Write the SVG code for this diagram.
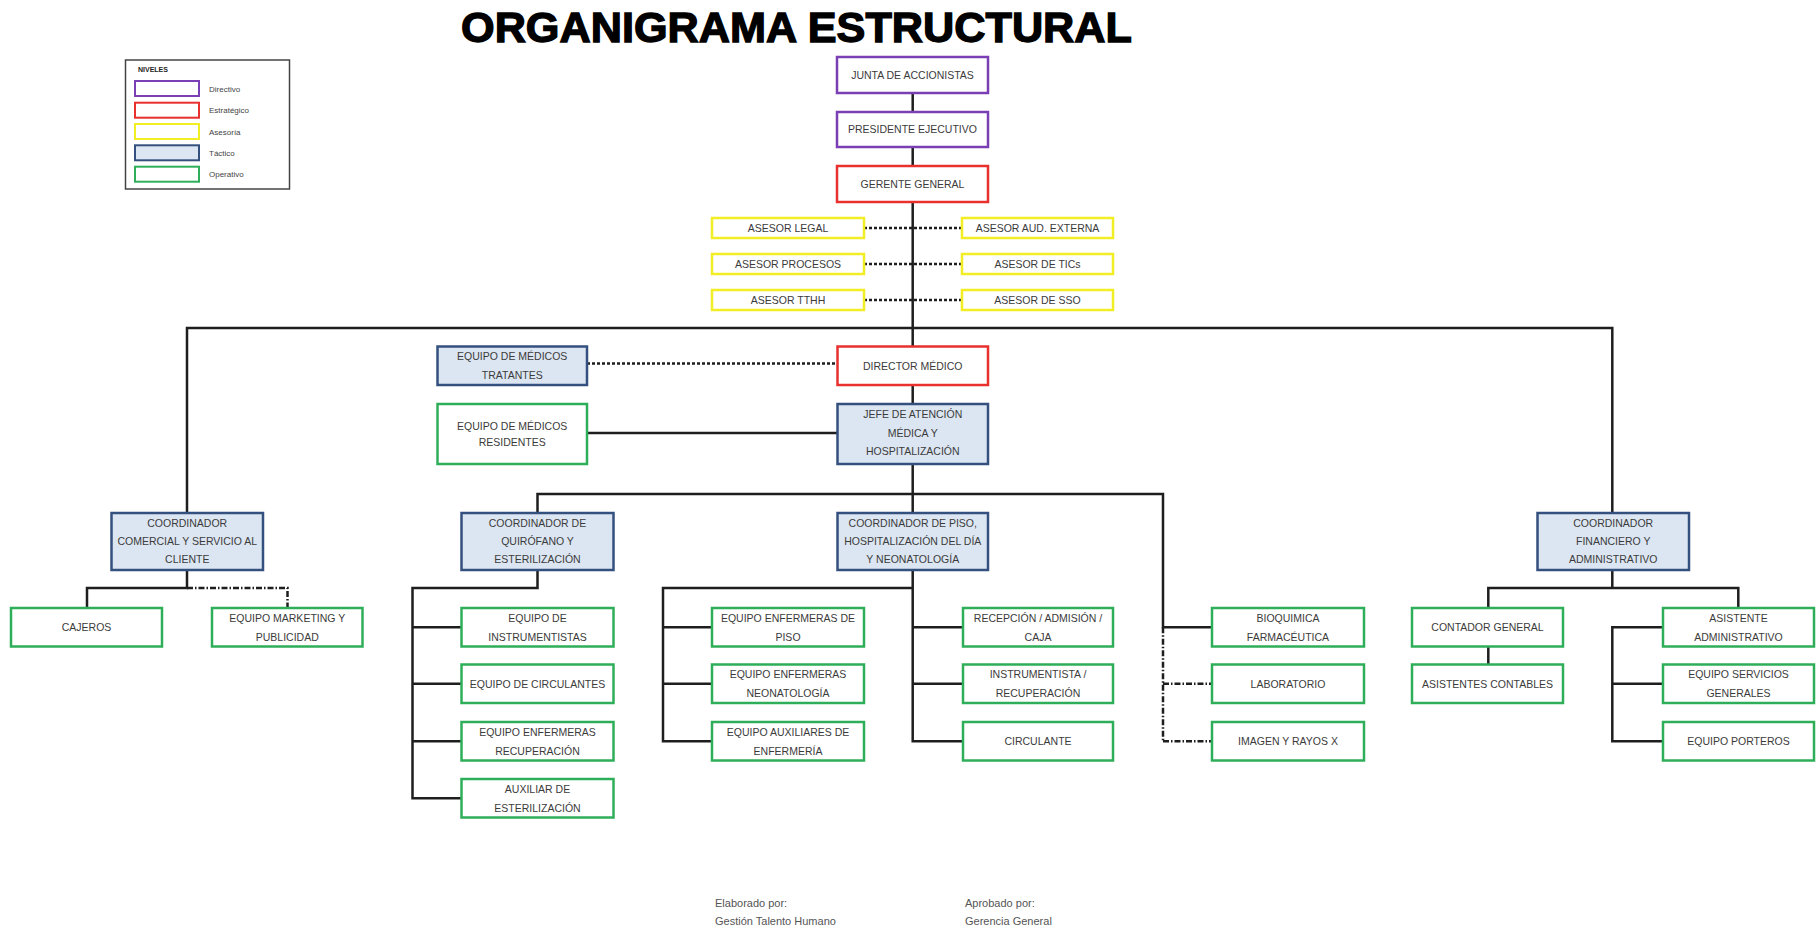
<svg xmlns="http://www.w3.org/2000/svg" width="1816" height="929" viewBox="0 0 1816 929">
<style>
.t{font-family:"Liberation Sans",Arial,sans-serif;font-size:10.5px;fill:#3b3b3b;text-anchor:middle}
.lg{font-family:"Liberation Sans",Arial,sans-serif;font-size:8px;fill:#444}
.ft{font-family:"Liberation Sans",Arial,sans-serif;font-size:11px;fill:#555}
.dir{fill:#fff;stroke:#7b3fb5;stroke-width:2.5}
.est{fill:#fff;stroke:#e8312f;stroke-width:2.5}
.ase{fill:#fff;stroke:#f2ee25;stroke-width:2.5}
.tac{fill:#dce6f2;stroke:#34507f;stroke-width:2.5}
.ope{fill:#fff;stroke:#2fae5a;stroke-width:2.5}
.ln{stroke:#1e1e1e;stroke-width:2.5;fill:none}
.ds{stroke:#1e1e1e;stroke-width:2.5;fill:none;stroke-dasharray:3 2}
.dd{stroke:#1e1e1e;stroke-width:2.5;fill:none;stroke-dasharray:6 2 1.5 2}
</style>
<rect width="1816" height="929" fill="#fff"/>
<text x="461" y="41.5" textLength="671" lengthAdjust="spacingAndGlyphs" style="font-family:'Liberation Sans',Arial,sans-serif;font-weight:bold;font-size:42px;fill:#000;stroke:#000;stroke-width:1.3">ORGANIGRAMA ESTRUCTURAL</text>

<g id="legend">
<rect x="125.5" y="60" width="164" height="129" fill="#fff" stroke="#444" stroke-width="1.5"/>
<text x="138" y="71.5" style="font-family:'Liberation Sans',Arial,sans-serif;font-size:7px;font-weight:bold;fill:#222">NIVELES</text>
<rect class="dir" x="135" y="81" width="64" height="15" style="stroke-width:2"/>
<rect class="est" x="135" y="102.7" width="64" height="15" style="stroke-width:2"/>
<rect class="ase" x="135" y="124" width="64" height="15" style="stroke-width:2"/>
<rect class="tac" x="135" y="145.3" width="64" height="15" style="stroke-width:2"/>
<rect class="ope" x="135" y="166.7" width="64" height="15" style="stroke-width:2"/>
<text class="lg" x="209" y="91.5">Directivo</text>
<text class="lg" x="209" y="113">Estratégico</text>
<text class="lg" x="209" y="134.5">Asesoría</text>
<text class="lg" x="209" y="155.8">Táctico</text>
<text class="lg" x="209" y="177.2">Operativo</text>
</g>

<g id="connectors">
<path class="ln" d="M912.7 93V513"/>
<path class="ln" d="M187 513V328H1612.3V513"/>
<path class="ds" d="M864 228H962M864 264H962M864 300H962"/>
<path class="ds" d="M587 363.5H837.5"/>
<path class="ln" d="M587 433H837.5"/>
<path class="ln" d="M537.5 513V494H1163V627.25H1212"/>
<path class="dd" d="M1163 627.25V741.25M1163 683.75H1212M1163 741.25H1212"/>
<path class="ln" d="M187 570V588H87V608"/>
<path class="dd" d="M187 588H287.5V608"/>
<path class="ln" d="M537.5 570V588H412.5V798.25H461.5M412.5 627.25H461.5M412.5 683.75H461.5M412.5 741.25H461.5"/>
<path class="ln" d="M912.7 570V741.25H963M912.7 588H663V741.25H712M663 627.25H712M663 683.75H712M912.7 627.25H963M912.7 683.75H963"/>
<path class="ln" d="M1612.3 570V588M1488.3 608V588H1738.3V608M1488.3 646V664.5"/>
<path class="ln" d="M1663 627.25H1612.3V741.25H1663M1612.3 683.75H1663"/>
</g>

<g id="junta"><rect class="dir" x="837" y="57" width="151" height="36"/><text class="t" x="912.5" y="78.8">JUNTA DE ACCIONISTAS</text></g>
<g id="presidente"><rect class="dir" x="837" y="112" width="151" height="35"/><text class="t" x="912.5" y="133.3">PRESIDENTE EJECUTIVO</text></g>
<g id="gerente"><rect class="est" x="837" y="166" width="151" height="36"/><text class="t" x="912.5" y="187.8">GERENTE GENERAL</text></g>

<g id="asesor-legal"><rect class="ase" x="712" y="218" width="152" height="20"/><text class="t" x="788" y="231.8">ASESOR LEGAL</text></g>
<g id="asesor-aud"><rect class="ase" x="962" y="218" width="151" height="20"/><text class="t" x="1037.5" y="231.8">ASESOR AUD. EXTERNA</text></g>
<g id="asesor-procesos"><rect class="ase" x="712" y="254" width="152" height="20"/><text class="t" x="788" y="267.8">ASESOR PROCESOS</text></g>
<g id="asesor-tics"><rect class="ase" x="962" y="254" width="151" height="20"/><text class="t" x="1037.5" y="267.8">ASESOR DE TICs</text></g>
<g id="asesor-tthh"><rect class="ase" x="712" y="290" width="152" height="20"/><text class="t" x="788" y="303.8">ASESOR TTHH</text></g>
<g id="asesor-sso"><rect class="ase" x="962" y="290" width="151" height="20"/><text class="t" x="1037.5" y="303.8">ASESOR DE SSO</text></g>

<g id="tratantes"><rect class="tac" x="437.5" y="346.5" width="149.5" height="38.5"/><text class="t" x="512.25"><tspan x="512.25" y="360.3">EQUIPO DE MÉDICOS</tspan><tspan x="512.25" y="378.8">TRATANTES</tspan></text></g>
<g id="director"><rect class="est" x="837.5" y="346.5" width="150.5" height="38.5"/><text class="t" x="912.75" y="369.5">DIRECTOR MÉDICO</text></g>
<g id="residentes"><rect class="ope" x="437.5" y="404" width="149.5" height="60"/><text class="t"><tspan x="512.25" y="429.8">EQUIPO DE MÉDICOS</tspan><tspan x="512.25" y="446.3">RESIDENTES</tspan></text></g>
<g id="jefe"><rect class="tac" x="837.5" y="404" width="150.5" height="60"/><text class="t"><tspan x="912.75" y="418">JEFE DE ATENCIÓN</tspan><tspan x="912.75" y="436.5">MÉDICA Y</tspan><tspan x="912.75" y="455">HOSPITALIZACIÓN</tspan></text></g>

<g id="coord-comercial"><rect class="tac" x="111.5" y="513" width="151.5" height="57"/><text class="t"><tspan x="187.25" y="527.3">COORDINADOR</tspan><tspan x="187.25" y="545.3">COMERCIAL Y SERVICIO AL</tspan><tspan x="187.25" y="563.3">CLIENTE</tspan></text></g>
<g id="coord-quirofano"><rect class="tac" x="461.5" y="513" width="152" height="57"/><text class="t"><tspan x="537.5" y="527.3">COORDINADOR DE</tspan><tspan x="537.5" y="545.3">QUIRÓFANO Y</tspan><tspan x="537.5" y="563.3">ESTERILIZACIÓN</tspan></text></g>
<g id="coord-piso"><rect class="tac" x="837.5" y="513" width="150.5" height="57"/><text class="t"><tspan x="912.75" y="527.3">COORDINADOR DE PISO,</tspan><tspan x="912.75" y="545.3">HOSPITALIZACIÓN DEL DÍA</tspan><tspan x="912.75" y="563.3">Y NEONATOLOGÍA</tspan></text></g>
<g id="coord-financiero"><rect class="tac" x="1537.5" y="513" width="151.5" height="57"/><text class="t"><tspan x="1613.25" y="527.3">COORDINADOR</tspan><tspan x="1613.25" y="545.3">FINANCIERO Y</tspan><tspan x="1613.25" y="563.3">ADMINISTRATIVO</tspan></text></g>

<g id="cajeros"><rect class="ope" x="11" y="608" width="151" height="38.5"/><text class="t" x="86.5" y="631">CAJEROS</text></g>
<g id="marketing"><rect class="ope" x="212" y="608" width="150.5" height="38.5"/><text class="t"><tspan x="287.25" y="621.5">EQUIPO MARKETING Y</tspan><tspan x="287.25" y="640.5">PUBLICIDAD</tspan></text></g>

<g id="instrumentistas"><rect class="ope" x="461.5" y="608" width="152" height="38.5"/><text class="t"><tspan x="537.5" y="621.5">EQUIPO DE</tspan><tspan x="537.5" y="640.5">INSTRUMENTISTAS</tspan></text></g>
<g id="circulantes"><rect class="ope" x="461.5" y="664.5" width="152" height="38.5"/><text class="t" x="537.5" y="687.5">EQUIPO DE CIRCULANTES</text></g>
<g id="enf-recuperacion"><rect class="ope" x="461.5" y="722" width="152" height="38.5"/><text class="t"><tspan x="537.5" y="735.5">EQUIPO ENFERMERAS</tspan><tspan x="537.5" y="754.5">RECUPERACIÓN</tspan></text></g>
<g id="aux-esterilizacion"><rect class="ope" x="461.5" y="779" width="152" height="38.5"/><text class="t"><tspan x="537.5" y="792.5">AUXILIAR DE</tspan><tspan x="537.5" y="811.5">ESTERILIZACIÓN</tspan></text></g>

<g id="enf-piso"><rect class="ope" x="712" y="608" width="152" height="38.5"/><text class="t"><tspan x="788" y="621.5">EQUIPO ENFERMERAS DE</tspan><tspan x="788" y="640.5">PISO</tspan></text></g>
<g id="enf-neonatologia"><rect class="ope" x="712" y="664.5" width="152" height="38.5"/><text class="t"><tspan x="788" y="678">EQUIPO ENFERMERAS</tspan><tspan x="788" y="697">NEONATOLOGÍA</tspan></text></g>
<g id="aux-enfermeria"><rect class="ope" x="712" y="722" width="152" height="38.5"/><text class="t"><tspan x="788" y="735.5">EQUIPO AUXILIARES DE</tspan><tspan x="788" y="754.5">ENFERMERÍA</tspan></text></g>

<g id="recepcion"><rect class="ope" x="963" y="608" width="150" height="38.5"/><text class="t"><tspan x="1038" y="621.5">RECEPCIÓN / ADMISIÓN /</tspan><tspan x="1038" y="640.5">CAJA</tspan></text></g>
<g id="instrumentista"><rect class="ope" x="963" y="664.5" width="150" height="38.5"/><text class="t"><tspan x="1038" y="678">INSTRUMENTISTA /</tspan><tspan x="1038" y="697">RECUPERACIÓN</tspan></text></g>
<g id="circulante"><rect class="ope" x="963" y="722" width="150" height="38.5"/><text class="t" x="1038" y="745">CIRCULANTE</text></g>

<g id="bioquimica"><rect class="ope" x="1212" y="608" width="152" height="38.5"/><text class="t"><tspan x="1288" y="621.5">BIOQUIMICA</tspan><tspan x="1288" y="640.5">FARMACÉUTICA</tspan></text></g>
<g id="laboratorio"><rect class="ope" x="1212" y="664.5" width="152" height="38.5"/><text class="t" x="1288" y="687.5">LABORATORIO</text></g>
<g id="imagen"><rect class="ope" x="1212" y="722" width="152" height="38.5"/><text class="t" x="1288" y="745">IMAGEN Y RAYOS X</text></g>

<g id="contador"><rect class="ope" x="1412" y="608" width="151" height="38.5"/><text class="t" x="1487.5" y="631">CONTADOR GENERAL</text></g>
<g id="asistentes-contables"><rect class="ope" x="1412" y="664.5" width="151" height="38.5"/><text class="t" x="1487.5" y="687.5">ASISTENTES CONTABLES</text></g>
<g id="asistente-admin"><rect class="ope" x="1663" y="608" width="151" height="38.5"/><text class="t"><tspan x="1738.5" y="621.5">ASISTENTE</tspan><tspan x="1738.5" y="640.5">ADMINISTRATIVO</tspan></text></g>
<g id="servicios-generales"><rect class="ope" x="1663" y="664.5" width="151" height="38.5"/><text class="t"><tspan x="1738.5" y="678">EQUIPO SERVICIOS</tspan><tspan x="1738.5" y="697">GENERALES</tspan></text></g>
<g id="porteros"><rect class="ope" x="1663" y="722" width="151" height="38.5"/><text class="t" x="1738.5" y="745">EQUIPO PORTEROS</text></g>

<g id="footer">
<text class="ft" x="715" y="907">Elaborado por:</text>
<text class="ft" x="715" y="925">Gestión Talento Humano</text>
<text class="ft" x="965" y="907">Aprobado por:</text>
<text class="ft" x="965" y="925">Gerencia General</text>
</g>
</svg>
